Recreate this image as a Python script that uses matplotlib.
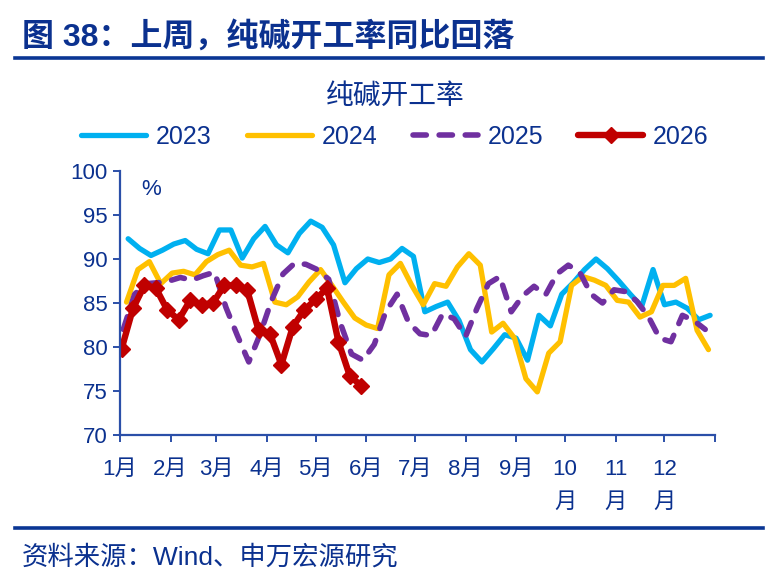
import numpy as np
import pandas as pd
import matplotlib
matplotlib.use("Agg")
import matplotlib.pyplot as plt
from matplotlib.lines import Line2D

plt.rcParams['font.family'] = ['Liberation Sans', 'Noto Sans CJK SC', 'DejaVu Sans']

# weekly soda ash operating rate (%), one value per week
v2023 = [92.3, 91.2, 90.4, 91.0, 91.7, 92.1, 91.1, 90.6, 93.3, 93.3, 90.1, 92.3, 93.7,
         91.6, 90.7, 92.9, 94.3, 93.6, 91.6, 87.3, 88.9, 90.0, 89.6, 90.0, 91.2, 90.3,
         84.0, 84.6, 85.1, 83.0, 79.7, 78.3, 79.8, 81.4, 81.0, 78.5, 83.6, 82.4, 86.0,
         87.3, 88.8, 90.0, 88.9, 87.5, 86.0, 84.6, 88.8, 84.8, 85.1, 84.4, 83.1, 83.6]
v2024 = [85.1, 88.8, 89.7, 87.2, 88.4, 88.6, 88.2, 89.7, 90.5, 91.0, 89.3, 89.1, 89.5,
         85.1, 84.8, 85.7, 87.4, 88.8, 87.0, 85.1, 83.3, 82.5, 82.1, 88.2, 89.5, 87.0,
         84.8, 87.2, 86.9, 89.1, 90.6, 89.3, 81.7, 82.7, 81.0, 76.4, 74.9, 79.3, 80.6,
         87.0, 88.0, 87.6, 87.0, 85.3, 85.1, 83.4, 84.0, 87.0, 87.0, 87.8, 81.9, 79.7]
v2025 = [82.0, 86.0, 87.2, 87.3, 87.5, 87.9, 87.6, 88.1, 88.5, 84.5, 81.3, 78.3, 81.5,
         85.3, 88.3, 89.5, 89.4, 88.8, 87.7, 82.8, 79.2, 78.5, 80.3, 84.0, 86.0, 82.8,
         81.5, 81.3, 83.8, 83.2, 81.2, 84.4, 87.2, 88.0, 84.0, 85.8, 86.9, 85.9, 88.3,
         89.3, 88.5, 86.0, 85.0, 86.5, 86.3, 85.2, 83.5, 81.0, 80.6, 83.6, 83.0, 82.0]
v2026 = [79.8, 84.4, 87.0, 86.7, 84.2, 83.1, 85.3, 84.8, 85.0, 87.0, 87.0, 86.5, 81.9,
         81.5, 78.0, 82.3, 84.2, 85.4, 86.7, 80.6, 76.7, 75.6]

first_week = {'2023': '2023-01-06', '2024': '2024-01-05', '2025': '2025-01-03', '2026': '2026-01-02'}

month_days = [0, 31, 59, 90, 120, 151, 181, 212, 243, 273, 304, 334, 365]
month_labels = ['1月', '2月', '3月', '4月', '5月', '6月', '7月', '8月', '9月',
                '10\n月', '11\n月', '12\n月', '']

navy = '#0B318F'
axis_blue = '#2B4FA8'


def day_index(start, n):
    return np.asarray(pd.date_range(start, periods=n, freq='7D').dayofyear) - 1


fig = plt.figure(figsize=(7.75, 5.85), dpi=100)
ax = fig.add_axes([120 / 775, 1 - 435 / 585, 595 / 775, 264 / 585])

ax.plot(day_index(first_week['2023'], len(v2023)), v2023, color='#00B0F0', lw=3.8,
        solid_capstyle='round', solid_joinstyle='round', label='2023')
ax.plot(day_index(first_week['2024'], len(v2024)), v2024, color='#FFC000', lw=3.8,
        solid_capstyle='round', solid_joinstyle='round', label='2024')
ax.plot(day_index(first_week['2025'], len(v2025)), v2025, color='#7030A0', lw=4.0,
        dashes=(2.4, 2.3), dash_capstyle='round', dash_joinstyle='round', label='2025')
ax.plot(day_index(first_week['2026'], len(v2026)), v2026, color='#C00000', lw=4.6,
        marker='D', markersize=8.5, solid_capstyle='round', solid_joinstyle='round',
        label='2026')

ax.set_xlim(0, 365)
ax.set_ylim(70, 100)
ax.set_yticks(np.arange(70, 101, 5))
ax.set_xticks(month_days)
ax.set_xticklabels(month_labels)
for t in ax.get_xticklabels():
    t.set_linespacing(1.75)

for side in ['top', 'right']:
    ax.spines[side].set_visible(False)
for side in ['left', 'bottom']:
    ax.spines[side].set_color(axis_blue)
    ax.spines[side].set_linewidth(1.6)
ax.tick_params(axis='both', colors=axis_blue, labelcolor=navy, labelsize=16,
               direction='out', length=5, width=1.4)
ax.tick_params(axis='x', pad=12)
ax.tick_params(axis='y', pad=4)

ax.text(0.035, 0.97, '%', transform=ax.transAxes, fontsize=16, color=navy,
        ha='left', va='top')

fig.legend(loc='center', bbox_to_anchor=(395 / 775, 1 - 137 / 585), ncol=4,
           frameon=False, fontsize=18, labelcolor=navy, handlelength=2.6,
           columnspacing=1.4, handletextpad=0.4, numpoints=1)

fig.text(395 / 775, 1 - 97 / 585, '纯碱开工率', ha='center', va='center',
         fontsize=20, color=navy)
fig.text(22 / 775, 1 - 37 / 585, '图 38：上周，纯碱开工率同比回落', ha='left',
         va='center', fontsize=23, fontweight='bold', color=navy)
fig.text(22 / 775, 1 - 557 / 585, '资料来源：Wind、申万宏源研究', ha='left',
         va='center', fontsize=19, color=navy)

fig.add_artist(Line2D([15 / 775, 763 / 775], [1 - 58 / 585] * 2,
                      transform=fig.transFigure, color='#0A3694', lw=2.6))
fig.add_artist(Line2D([15 / 775, 763 / 775], [1 - 528 / 585] * 2,
                      transform=fig.transFigure, color='#0A3694', lw=2.6))

fig.savefig('out.png', dpi=100)
